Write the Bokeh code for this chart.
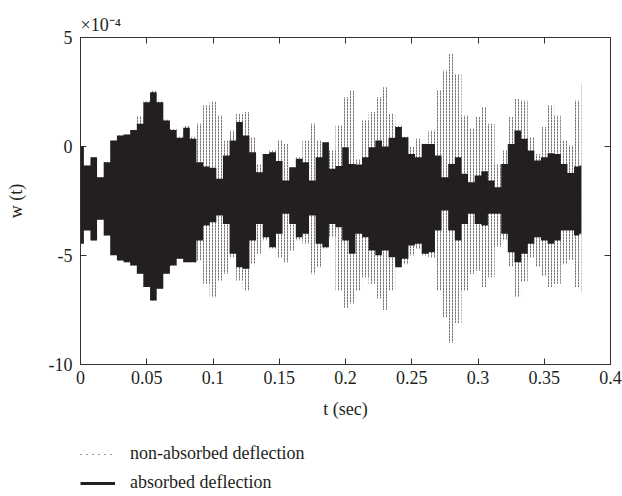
from bokeh.plotting import figure
from bokeh.layouts import column
from bokeh.models import Range1d, LinearAxis, Legend, LegendItem, FixedTicker, Title
from bokeh.embed import file_html
from bokeh.resources import INLINE

# ---------------- data (units of 1e-4) ----------------
t = [0.000, 0.005, 0.010, 0.015, 0.020, 0.025, 0.030, 0.035, 0.040, 0.045,
     0.050, 0.055, 0.060, 0.065, 0.070, 0.075, 0.080, 0.085, 0.090, 0.095,
     0.100, 0.105, 0.110, 0.115, 0.120, 0.125, 0.130, 0.135, 0.140, 0.145,
     0.150, 0.155, 0.160, 0.165, 0.170, 0.175, 0.180, 0.185, 0.190, 0.195,
     0.200, 0.205, 0.210, 0.215, 0.220, 0.225, 0.230, 0.235, 0.240, 0.245,
     0.250, 0.255, 0.260, 0.265, 0.270, 0.275, 0.280, 0.285, 0.290, 0.295,
     0.300, 0.305, 0.310, 0.315, 0.320, 0.325, 0.330, 0.335, 0.340, 0.345,
     0.350, 0.355, 0.360, 0.365, 0.370, 0.375, 0.378]

# absorbed deflection: upper / lower envelope of the oscillation
absorbed_upper = [0.00, -0.87, -0.49, -1.41, -0.72, 0.28, 0.50, 0.55, 0.76, 1.04,
                  2.03, 2.49, 2.03, 1.19, 0.76, 0.40, 0.86, 0.35, -0.72, -0.92,
                  -0.98, -1.48, -0.41, 0.28, 1.12, 0.50, -0.26, -1.18, -0.34, -0.26,
                  -0.67, -1.56, -0.95, -0.56, -0.72, -1.56, -0.49, 0.20, -1.02, -0.90,
                  -0.03, -0.80, -0.83, -0.49, -0.03, 0.28, 0.00, 0.40, 0.89, 0.43,
                  -0.34, -0.49, 0.12, 0.12, -0.41, -1.41, -0.80, -0.49, -1.25, -1.64,
                  -1.33, -1.13, -1.56, -1.87, -0.80, 0.12, 0.73, 0.35, -0.18, -0.64,
                  -0.49, -0.31, -0.34, -0.80, -1.22, -0.92, -0.87]
absorbed_lower = [-4.46, -3.85, -4.31, -3.36, -4.08, -4.99, -5.23, -5.31, -5.46, -5.84,
                  -6.45, -7.06, -6.53, -5.84, -5.46, -5.15, -5.31, -5.31, -4.31, -3.62,
                  -3.47, -3.17, -3.55, -4.92, -5.54, -5.61, -4.31, -3.55, -4.16, -4.62,
                  -4.00, -3.09, -3.55, -4.16, -4.00, -3.17, -4.46, -4.62, -3.55, -3.70,
                  -4.31, -4.92, -4.00, -4.16, -4.77, -4.99, -4.77, -5.08, -5.54, -5.15,
                  -4.54, -4.46, -4.92, -4.85, -3.85, -2.94, -3.85, -4.31, -3.55, -3.09,
                  -3.55, -3.62, -3.09, -3.09, -4.00, -4.85, -5.31, -4.92, -4.46, -4.16,
                  -4.31, -4.46, -4.31, -3.85, -3.85, -4.08, -4.00]

# non-absorbed deflection: upper / lower envelope of the oscillation
nonabsorbed_upper = [0.00, -0.87, -0.49, -1.41, -0.72, 0.28, 0.50, 0.55, 0.76, 1.40,
                     2.10, 2.55, 2.10, 1.25, 0.80, 0.45, 0.95, 0.45, 1.04, 1.88,
                     2.05, 1.42, 0.28, 0.73, 1.50, 1.58, 0.43, -0.80, -0.34, -0.18,
                     0.28, 0.12, -0.95, -0.49, 0.28, 1.04, 0.28, 0.20, -0.18, 0.96,
                     2.26, 2.57, -0.60, 1.19, 1.58, 2.26, 2.72, 1.50, 0.95, 0.45,
                     0.00, 0.35, 0.15, 0.73, 2.57, 3.49, 4.25, 3.33, 1.42, 0.81,
                     1.35, 1.81, 1.04, -0.80, -0.18, 1.35, 2.18, 2.11, 0.43, -0.34,
                     0.89, 1.88, 1.42, 0.28, 0.05, 2.11, 2.87]
nonabsorbed_lower = [-4.46, -3.85, -4.31, -3.36, -4.08, -4.99, -5.23, -5.31, -5.46, -5.84,
                     -6.45, -7.06, -6.53, -5.84, -5.46, -5.15, -5.31, -5.31, -5.23, -6.30,
                     -6.91, -6.15, -5.84, -5.08, -6.15, -6.61, -5.38, -4.92, -4.30, -4.70,
                     -5.08, -5.31, -4.77, -4.30, -4.46, -5.84, -5.54, -4.70, -4.16, -6.61,
                     -7.40, -7.20, -6.60, -6.00, -6.30, -6.97, -7.50, -6.60, -5.37, -5.40,
                     -5.00, -4.70, -5.00, -5.10, -6.60, -7.84, -9.00, -8.10, -6.60, -5.85,
                     -5.70, -6.45, -6.00, -4.60, -4.30, -5.50, -6.90, -6.20, -5.10, -5.50,
                     -5.95, -6.45, -6.30, -5.40, -5.20, -6.45, -6.70]

x_ticks = [0, 0.05, 0.1, 0.15, 0.2, 0.25, 0.3, 0.35, 0.4]
x_tick_labels = ["0", "0.05", "0.1", "0.15", "0.2", "0.25", "0.3", "0.35", "0.4"]
y_ticks = [-10, -5, 0, 5]
y_tick_labels = ["-10", "-5", "0", "5"]
series_names = ["non-absorbed deflection", "absorbed deflection"]
scale_text = "×10⁻⁴"

# ---------------- styling ----------------
FONT = "Liberation Serif"
FS = "18px"
INK = "#231f20"
AXC = "#333333"

p = figure(width=622, height=430, x_range=Range1d(0, 0.4), y_range=Range1d(-10, 5),
           output_backend="svg", toolbar_location=None,
           min_border_left=80, min_border_right=12, min_border_top=37, min_border_bottom=66)
p.xgrid.visible = False
p.ygrid.visible = False
p.outline_line_color = AXC
p.background_fill_color = "white"
p.border_fill_color = "white"

# non-absorbed: dotted vertical texture between its envelopes
p.varea_step(x=t, y1=nonabsorbed_lower, y2=nonabsorbed_upper, step_mode="center",
             fill_alpha=0, hatch_pattern="vertical_dash", hatch_color="#777777",
             hatch_scale=3, hatch_weight=1)
# absorbed: solid black band
p.varea_step(x=t, y1=absorbed_lower, y2=absorbed_upper, step_mode="center",
             fill_color=INK, fill_alpha=1)

def style_axis(ax, labels):
    ax.axis_line_color = AXC
    ax.major_tick_line_color = AXC
    ax.major_tick_in = 6
    ax.major_tick_out = 0
    ax.minor_tick_in = 0
    ax.minor_tick_out = 0
    ax.major_label_text_font = FONT
    ax.major_label_text_font_size = FS
    ax.major_label_text_color = INK
    ax.axis_label_text_font = FONT
    ax.axis_label_text_font_size = FS
    ax.axis_label_text_font_style = "normal"
    ax.axis_label_text_color = INK
    if not labels:
        ax.major_label_text_color = None
        ax.major_label_text_font_size = "1px"
        ax.major_label_standoff = 0

xa = p.xaxis[0]
xa.ticker = FixedTicker(ticks=x_ticks)
xa.major_label_overrides = dict(zip(x_ticks, x_tick_labels))
xa.axis_label = "t (sec)"
xa.major_label_standoff = 6
xa.axis_label_standoff = 12
style_axis(xa, True)

ya = p.yaxis[0]
ya.ticker = FixedTicker(ticks=y_ticks)
ya.major_label_overrides = dict(zip(y_ticks, y_tick_labels))
ya.axis_label = "w (t)"
ya.major_label_standoff = 8
ya.axis_label_standoff = 20
style_axis(ya, True)

top = LinearAxis(ticker=FixedTicker(ticks=x_ticks))
style_axis(top, False)
p.add_layout(top, "above")
right = LinearAxis(ticker=FixedTicker(ticks=y_ticks))
style_axis(right, False)
p.add_layout(right, "right")

# exponent as a title above the frame
p.add_layout(Title(text=scale_text, align="left", text_font=FONT, text_font_size=FS,
                   text_font_style="normal", text_color=INK, standoff=6), "above")

# legend strip below the chart (its sample renderers hold one point outside the view)
pl = figure(width=622, height=66, x_range=Range1d(0, 1), y_range=Range1d(0, 1),
            output_backend="svg", toolbar_location=None, x_axis_type=None, y_axis_type=None,
            min_border_left=0, min_border_right=0, min_border_top=0, min_border_bottom=0)
pl.outline_line_color = None
pl.xgrid.visible = False
pl.ygrid.visible = False
pl.background_fill_color = "white"
pl.border_fill_color = "white"
leg_na = pl.line(x=[-5], y=[-5], line_color="#333333", line_dash="1 5", line_width=1)
leg_ab = pl.line(x=[-5], y=[-5], line_color=INK, line_width=3)
legend = Legend(items=[LegendItem(label=series_names[0], renderers=[leg_na]),
                       LegendItem(label=series_names[1], renderers=[leg_ab])],
                location=(0, 3), border_line_color=None, background_fill_alpha=0,
                label_text_font=FONT, label_text_font_size=FS, label_text_color=INK,
                glyph_width=35, label_standoff=15, spacing=8, padding=0, margin=0)
pl.add_layout(legend)

open("out.html", "w").write(file_html(column(p, pl, spacing=0), INLINE))
